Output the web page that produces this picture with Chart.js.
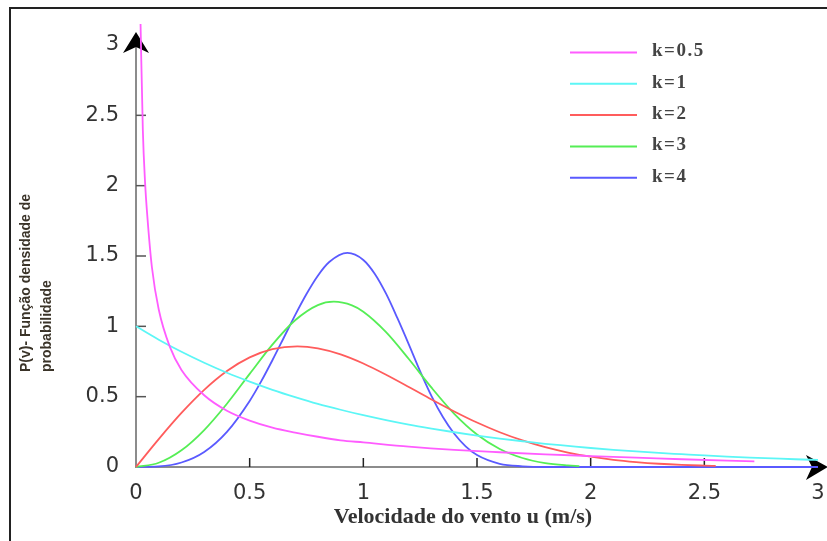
<!DOCTYPE html>
<html><head><meta charset="utf-8">
<script src="https://cdn.jsdelivr.net/npm/chart.js@4/dist/chart.umd.min.js"></script>
<style>html,body{margin:0;padding:0;background:#fff;overflow:hidden}</style>
</head><body>
<canvas id="c" width="827" height="541"></canvas>
<script>
// ---- data ----
const speedsK1 = [0,0.1,0.2,0.3,0.4,0.5,0.6,0.7,0.8,0.9,1.0,1.1,1.2,1.3,1.4,1.5,1.6,1.7,1.8,1.9,2.0,2.1,2.2,2.3,2.4,2.5,2.6,2.7,2.8,2.9,3.0];
const k1 = [1.00,0.905,0.819,0.741,0.670,0.607,0.549,0.497,0.449,0.407,0.368,0.333,0.301,0.273,0.247,0.223,0.202,0.183,0.165,0.150,0.135,0.122,0.111,0.100,0.091,0.082,0.074,0.067,0.061,0.055,0.050];
const speedsK2 = [0,0.1,0.2,0.3,0.4,0.5,0.6,0.71,0.8,0.9,1.0,1.1,1.2,1.3,1.4,1.5,1.6,1.7,1.8,1.9,2.0,2.1,2.2,2.3,2.4,2.5,2.55];
const k2 = [0,0.198,0.384,0.548,0.682,0.779,0.838,0.858,0.844,0.801,0.736,0.656,0.569,0.480,0.395,0.316,0.247,0.189,0.141,0.103,0.073,0.051,0.035,0.023,0.015,0.010,0.008];
const speedsK3 = [0,0.1,0.2,0.3,0.4,0.5,0.6,0.7,0.8,0.87,0.95,1.0,1.1,1.2,1.3,1.4,1.5,1.6,1.7,1.8,1.9,1.95];
const k3 = [0,0.030,0.119,0.263,0.450,0.662,0.870,1.043,1.151,1.175,1.149,1.104,0.959,0.768,0.564,0.378,0.231,0.128,0.064,0.028,0.011,0.006];
const speedsK4 = [0,0.1,0.2,0.3,0.4,0.5,0.55,0.6,0.65,0.7,0.75,0.8,0.85,0.93,1.0,1.05,1.1,1.15,1.2,1.25,1.3,1.35,1.4,1.45,1.5,1.6,1.7,1.8,3.0];
const k4 = [0,0.004,0.032,0.107,0.250,0.470,0.607,0.759,0.919,1.080,1.230,1.360,1.457,1.522,1.472,1.374,1.232,1.058,0.872,0.680,0.504,0.355,0.236,0.147,0.085,0.023,0.005,0,0];
const speedsK05 = [0.02,0.03,0.04,0.05,0.07,0.1,0.15,0.2,0.3,0.4,0.5,0.6,0.7,0.8,0.9,1.0,1.2,1.4,1.6,1.8,2.0,2.2,2.4,2.6,2.72];
const k05 = [3.15,2.40,2.02,1.78,1.42,1.12,0.85,0.69,0.51,0.40,0.33,0.28,0.245,0.215,0.19,0.175,0.145,0.122,0.105,0.09,0.078,0.067,0.055,0.045,0.04];
const seriesLabels = ['k=0.5','k=1','k=2','k=3','k=4'];
const seriesColors = ['#ff5cff','#5cf6f6','#ff5c5c','#55ee55','#5a5aff'];
const xTicks = [0,0.5,1,1.5,2,2.5,3];
const yTicks = [0,0.5,1,1.5,2,2.5,3];
const xTitle = 'Velocidade do vento u (m/s)';
const yTitleLines = ['P(v)- Função densidade de','probabilidade'];

function pts(xs, ys){ return xs.map((x,i)=>({x:x,y:ys[i]})); }
const seriesData = [pts(speedsK05,k05), pts(speedsK1,k1), pts(speedsK2,k2), pts(speedsK3,k3), pts(speedsK4,k4)];

const decor = {
  id:'decor',
  beforeDraw(chart){
    const ctx = chart.ctx;
    ctx.save();
    ctx.fillStyle='#fff'; ctx.fillRect(0,0,chart.width,chart.height);
    ctx.strokeStyle='#222'; ctx.lineWidth=2;
    ctx.beginPath(); ctx.moveTo(10,541); ctx.lineTo(10,8); ctx.lineTo(827,8); ctx.stroke();
    ctx.restore();
  },
  beforeDatasetsDraw(chart){
    const ctx = chart.ctx, xs = chart.scales.x, ys = chart.scales.y;
    const x0 = xs.getPixelForValue(0), y0 = ys.getPixelForValue(0);
    ctx.save();
    ctx.strokeStyle='#555'; ctx.lineWidth=1.5;
    yTicks.forEach(v=>{ if(v===0||v===3) return; const y=ys.getPixelForValue(v); ctx.beginPath(); ctx.moveTo(x0,y); ctx.lineTo(x0+10,y); ctx.stroke(); });
    ctx.strokeStyle='#222';
    xTicks.forEach(v=>{ if(v===0||v===3) return; const x=xs.getPixelForValue(v); ctx.beginPath(); ctx.moveTo(x,y0); ctx.lineTo(x,y0-9); ctx.stroke(); });
    // arrows
    ctx.fillStyle='#000';
    const yTop = ys.getPixelForValue(3);
    ctx.beginPath(); ctx.moveTo(x0, yTop-13); ctx.lineTo(x0+13, yTop+8); ctx.lineTo(x0, yTop+2); ctx.lineTo(x0-13, yTop+8); ctx.closePath(); ctx.fill();
    const xEnd = xs.getPixelForValue(3);
    ctx.beginPath(); ctx.moveTo(xEnd+10, y0); ctx.lineTo(xEnd-12, y0-12); ctx.lineTo(xEnd-6, y0); ctx.lineTo(xEnd-12, y0+13); ctx.closePath(); ctx.fill();
    ctx.restore();
  },
  afterDatasetsDraw(chart){
    const ctx = chart.ctx;
    ctx.save();
    // legend
    chart.data.datasets.forEach((ds,i)=>{
      const y = 52.5 + i*31.3;
      ctx.strokeStyle = ds.borderColor; ctx.lineWidth = 2;
      ctx.beginPath(); ctx.moveTo(570,y); ctx.lineTo(637,y); ctx.stroke();
      ctx.fillStyle='#444'; ctx.font='bold 19px "Liberation Serif", serif';
      ctx.letterSpacing='1.5px';
      ctx.textAlign='left'; ctx.textBaseline='middle';
      ctx.fillText(ds.label, 652, y-1);
    });
    ctx.letterSpacing='0px';
    // x title
    ctx.fillStyle='#333'; ctx.font='bold 22px "Liberation Serif", serif';
    ctx.textAlign='center'; ctx.textBaseline='middle';
    ctx.fillText(xTitle, 463, 517);
    // y title
    ctx.fillStyle='#3a3328'; ctx.font='bold 14px "Liberation Sans", Arial, sans-serif';
    ctx.textAlign='left'; ctx.textBaseline='middle';
    [26,47].forEach((x,i)=>{ ctx.save(); ctx.translate(x,372); ctx.rotate(-Math.PI/2); ctx.fillText(yTitleLines[i],0,0); ctx.restore(); });
    ctx.restore();
  }
};

new Chart(document.getElementById('c'), {
  type:'line',
  data:{ datasets: seriesData.map((d,i)=>({label:seriesLabels[i], data:d, borderColor:seriesColors[i], backgroundColor:seriesColors[i], fill:false, clip:false})) },
  options:{
    responsive:false, animation:false, devicePixelRatio:1,
    layout:{padding:{left:0,right:9,top:45,bottom:0}},
    plugins:{legend:{display:false}, tooltip:{enabled:false}},
    elements:{point:{radius:0}, line:{borderWidth:1.8, cubicInterpolationMode:'monotone'}},
    scales:{
      x:{type:'linear', min:0, max:3,
         afterFit:s=>{s.height=74; s.paddingLeft=0; s.paddingRight=0;},
         afterBuildTicks:s=>{s.ticks=xTicks.map(v=>({value:v}));},
         grid:{display:false, drawTicks:false},
         border:{display:true, color:'#8c8c8c', width:2},
         ticks:{padding:14, color:'#333', maxRotation:0, font:{family:'DejaVu Sans', size:21}, callback:v=>String(v)},
         title:{display:false}
      },
      y:{type:'linear', min:0, max:3,
         afterFit:s=>{s.width=136; s.paddingTop=0; s.paddingBottom=0;},
         afterBuildTicks:s=>{s.ticks=yTicks.map(v=>({value:v}));},
         grid:{display:false, drawTicks:false},
         border:{display:true, color:'#8c8c8c', width:2},
         ticks:{padding:17, color:'#333', font:{family:'DejaVu Sans', size:21}, callback:v=>String(v)}
      }
    }
  },
  plugins:[decor]
});
</script>
</body></html>
